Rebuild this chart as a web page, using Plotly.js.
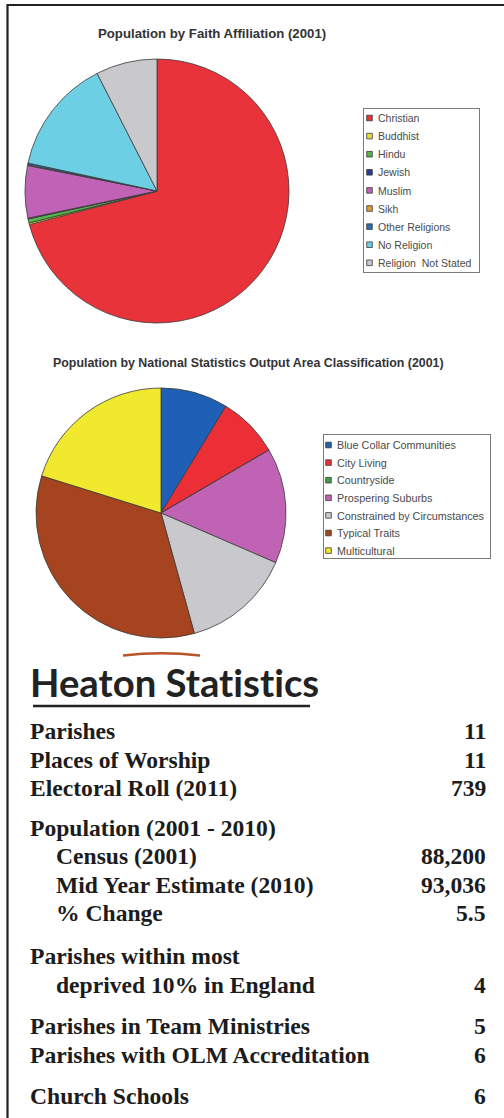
<!DOCTYPE html>
<html>
<head>
<meta charset="utf-8">
<script src="https://cdn.plot.ly/plotly-3.0.1.min.js"></script>
<style>
html,body{margin:0;padding:0;background:#fff;}
#chart{width:504px;height:1118px;}
svg text{font-variant-ligatures:none;font-feature-settings:"liga" 0, "dlig" 0;}
</style>
</head>
<body>
<div id="chart"></div>
<script>
// ---------- DATA ----------
const faithTitle = "Population by Faith Affiliation (2001)";
const faithLabels = ["Christian","Buddhist","Hindu","Jewish","Muslim","Sikh","Other Religions","No Religion","Religion  Not Stated"];
const faithValues = [70.9, 0.2, 0.5, 0.1, 6.4, 0.1, 0.2, 14.1, 7.5];

const oacTitle = "Population by National Statistics Output Area Classification (2001)";
const oacLabels = ["Blue Collar Communities","City Living","Countryside","Prospering Suburbs","Constrained by Circumstances","Typical Traits","Multicultural"];
const oacValues = [8.7, 7.9, 0, 14.9, 14.2, 34.1, 20.2];

const statsHeading = "Heaton Statistics";
const statLabels = ["Parishes","Places of Worship","Electoral Roll (2011)","Population (2001 - 2010)","Census (2001)","Mid Year Estimate (2010)","% Change","Parishes within most","deprived 10% in England","Parishes in Team Ministries","Parishes with OLM Accreditation","Church Schools"];
const statValues = ["11","11","739","","88,200","93,036","5.5","","4","5","6","6"];

// ---------- STYLE / LAYOUT ----------
const faithColors = ["#e8333b","#e6dc3a","#55b548","#2b3b98","#c062b6","#e39a32","#2a6fb0","#6dcfe3","#c9c9cd"];
const oacColors = ["#1f5fb6","#ec2f36","#3fa043","#c063b5","#c9c9cd","#a6441f","#f1e92e"];

const W = 504, H = 1118;
const px = x => x / W;
const py = y => 1 - y / H;

const rowIndent = [0,0,0,0,1,1,1,0,1,0,0,0];
const rowCenterY = [731,760,788,828,856,885,913,956,985,1026,1055,1096];

const serif = "Liberation Serif, Times New Roman, serif";
const sans = "Liberation Sans, Arial, sans-serif";

const traces = [
  {
    type: "pie",
    labels: faithLabels,
    values: faithValues,
    sort: false,
    direction: "clockwise",
    rotation: 0,
    textinfo: "none",
    hoverinfo: "label+percent",
    marker: {colors: faithColors, line: {color: "#3a3a3a", width: 0.8}},
    domain: {x: [px(25), px(289)], y: [py(323), py(59)]},
    legend: "legend"
  },
  {
    type: "pie",
    labels: oacLabels,
    values: oacValues,
    sort: false,
    direction: "clockwise",
    rotation: 0,
    textinfo: "none",
    hoverinfo: "label+percent",
    marker: {colors: oacColors, line: {color: "#3a3a3a", width: 0.8}},
    domain: {x: [px(36), px(286)], y: [py(638), py(388)]},
    legend: "legend2"
  }
];

const annotations = [
  {text: "<b>" + faithTitle + "</b>", x: px(212), y: py(34), xref: "paper", yref: "paper",
   xanchor: "center", yanchor: "middle", showarrow: false, font: {family: sans, size: 13.2, color: "#333"}},
  {text: "<b>" + oacTitle + "</b>", x: px(248), y: py(363), xref: "paper", yref: "paper",
   xanchor: "center", yanchor: "middle", showarrow: false, font: {family: sans, size: 12.4, color: "#333"}},
  {text: statsHeading, x: px(28), y: py(682), xref: "paper", yref: "paper",
   xanchor: "left", yanchor: "middle", showarrow: false,
   font: {family: "Lato, sans-serif", size: 38.3, color: "#222", weight: 700}}
];

statLabels.forEach((lab, i) => {
  annotations.push({
    text: "<b>" + lab + "</b>", x: px(rowIndent[i] ? 54 : 28), y: py(rowCenterY[i]), xref: "paper", yref: "paper",
    xanchor: "left", yanchor: "middle", showarrow: false,
    font: {family: serif, size: 23.6, color: "#1c1c1c", weight: 700}
  });
  if (statValues[i] !== "") {
    annotations.push({
      text: "<b>" + statValues[i] + "</b>", x: px(488), y: py(rowCenterY[i]), xref: "paper", yref: "paper",
      xanchor: "right", yanchor: "middle", showarrow: false,
      font: {family: serif, size: 23.6, color: "#1c1c1c", weight: 700}
    });
  }
});

const shapes = [
  {type: "line", xref: "paper", yref: "paper", x0: px(7), x1: px(504), y0: py(5), y1: py(5), line: {color: "#222", width: 2.2}},
  {type: "line", xref: "paper", yref: "paper", x0: px(7.5), x1: px(7.5), y0: py(4), y1: py(1118), line: {color: "#222", width: 2.2}},
  {type: "line", xref: "paper", yref: "paper", x0: px(33), x1: px(310), y0: py(706), y1: py(706), line: {color: "#222", width: 2.6}},
  {type: "path", xref: "paper", yref: "paper",
   path: `M ${px(123)} ${py(655.5)} Q ${px(161)} ${py(651)} ${px(200)} ${py(655.5)}`,
   line: {color: "#b8532a", width: 2.4}}
];

const legendCommon = {
  xanchor: "left", yanchor: "top",
  bgcolor: "#ffffff", bordercolor: "#7a7a7a", borderwidth: 1,
  font: {family: sans, color: "#4a4a4a"},
  traceorder: "normal"
};

// legends are laid out well inside the paper (so no margin push), then moved into place
const layout = {
  width: W, height: H,
  margin: {l: 0, r: 0, t: 0, b: 0, pad: 0},
  paper_bgcolor: "#ffffff",
  plot_bgcolor: "#ffffff",
  showlegend: true,
  legend: Object.assign({}, legendCommon, {x: px(300), y: py(108), font: Object.assign({}, legendCommon.font, {size: 10.5})}),
  legend2: Object.assign({}, legendCommon, {x: px(260), y: py(434), font: Object.assign({}, legendCommon.font, {size: 10.8})}),
  annotations: annotations,
  shapes: shapes
};

// compact legend entries (small swatches, tight spacing) like the original
function tweakLegend(id, boxX, boxY, boxW, boxH, firstY, step, symX, textX, half) {
  document.querySelectorAll("g." + id).forEach(g => {
    g.setAttribute("transform", `translate(${boxX},${boxY})`);
    g.querySelectorAll("rect.bg").forEach(bg => {
      bg.setAttribute("width", boxW - 1); bg.setAttribute("height", boxH - 1);
    });
    g.querySelectorAll("clipPath rect").forEach(r => {
      r.setAttribute("width", boxW + 20); r.setAttribute("height", boxH + 10);
    });
    g.querySelectorAll("g.traces").forEach((t, i) => {
      t.setAttribute("transform", `translate(0,${firstY + i * step})`);
      t.querySelectorAll("path.legendpie, path.legendundefined, g.legendpoints path").forEach(p => {
        p.setAttribute("d", `M${half},${half}H-${half}V-${half}H${half}Z`);
        p.setAttribute("transform", `translate(${symX},0)`);
      });
      t.querySelectorAll("text").forEach(tx => {
        tx.setAttribute("x", textX);
        tx.querySelectorAll("tspan[x]").forEach(s => s.setAttribute("x", textX));
      });
    });
  });
}
function tweakAll() {
  tweakLegend("legend", 363, 108, 117, 165, 10, 18.1, 6.5, 15, 2.8);
  tweakLegend("legend2", 323, 434, 168, 125, 11, 17.6, 5.5, 14, 2.8);
}

Plotly.newPlot("chart", traces, layout, {displayModeBar: false, staticPlot: true}).then(() => {
  tweakAll();
  setTimeout(tweakAll, 30);
  setTimeout(tweakAll, 200);
});
</script>
</body>
</html>
